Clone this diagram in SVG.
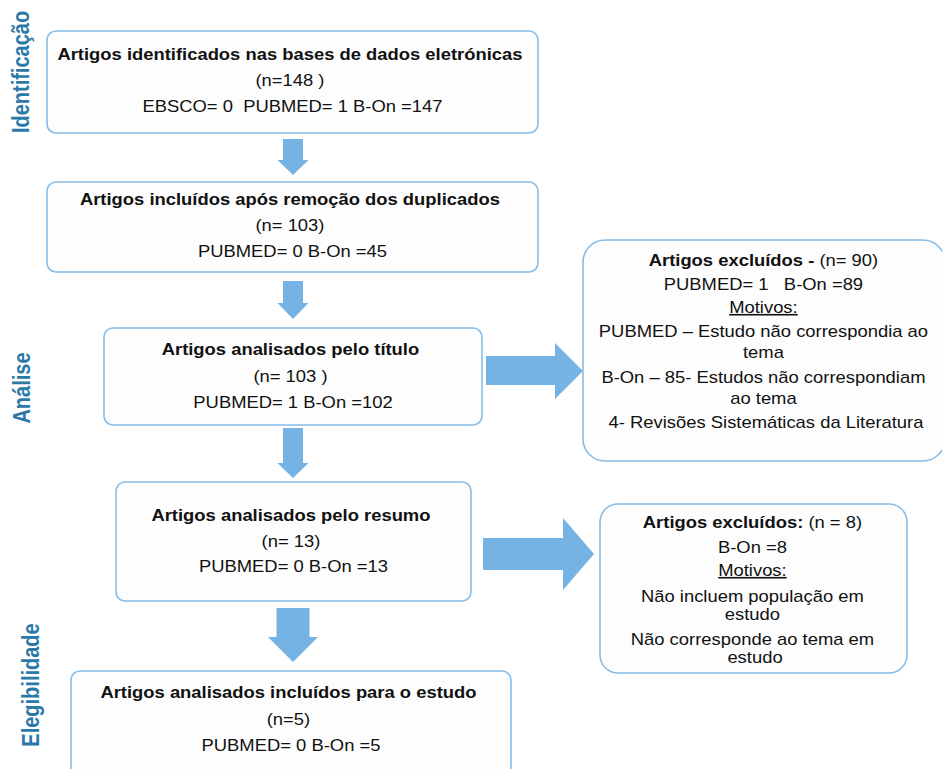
<svg xmlns="http://www.w3.org/2000/svg" width="942" height="769" viewBox="0 0 942 769">
<style>
  .box { fill: #fdfdfd; stroke: #86bde8; stroke-width: 1.6; }
  .arr { fill: #74b3e3; stroke: none; }
  text { font-family: "Liberation Sans", Arial, sans-serif; font-size: 16px; fill: #111; text-anchor: middle; }
  .b { font-weight: bold; }
  .u { text-decoration: underline; }
  .phase { font-size: 20px; font-weight: bold; fill: #2a79a8; }
</style>
<rect width="942" height="769" fill="#ffffff"/>

<g id="phase-labels">
  <text class="phase" transform="translate(28.5 72) scale(1.15 1) rotate(-90)">Identificação</text>
  <text class="phase" transform="translate(30 388) scale(1.15 1) rotate(-90)">Análise</text>
  <text class="phase" transform="translate(38.5 685) scale(1.15 1) rotate(-90)">Elegibilidade</text>
</g>

<g id="connectors">
  <polygon class="arr" points="283,139 303,139 303,160 308.5,160 293,175 277.5,160 283,160"/>
  <polygon class="arr" points="283,281 303,281 303,303 308.5,303 293,319 277.5,303 283,303"/>
  <polygon class="arr" points="283,428 303,428 303,463 308.5,463 293,478 277.5,463 283,463"/>
  <polygon class="arr" points="276.5,608 309.5,608 309.5,637 318,637 293,662 268,637 276.5,637"/>
  <polygon class="arr" points="486,356 555,356 555,343 583,371 555,399 555,385 486,385"/>
  <polygon class="arr" points="483,538 563,538 563,518 594,554 563,590 563,570 483,570"/>
</g>

<g id="node-identified">
  <rect class="box" x="47" y="31" width="491" height="102" rx="9"/>
  <text transform="translate(292.5 0) scale(1.15 1)">
    <tspan class="b" x="0" y="60">Artigos identificados nas bases de dados eletrónicas</tspan>
    <tspan x="0" y="86">(n=148 )</tspan>
    <tspan x="0" y="112">EBSCO= 0&#160; PUBMED= 1 B-On =147</tspan>
  </text>
</g>

<g id="node-dedup">
  <rect class="box" x="47" y="182" width="491" height="90" rx="9"/>
  <text transform="translate(292.5 0) scale(1.15 1)">
    <tspan class="b" x="0" y="205">Artigos incluídos após remoção dos duplicados</tspan>
    <tspan x="0" y="231">(n= 103)</tspan>
    <tspan x="0" y="257">PUBMED= 0 B-On =45</tspan>
  </text>
</g>

<g id="node-title">
  <rect class="box" x="104" y="328" width="378" height="97" rx="9"/>
  <text transform="translate(293 0) scale(1.15 1)">
    <tspan class="b" x="0" y="355">Artigos analisados pelo título</tspan>
    <tspan x="0" y="382">(n= 103 )</tspan>
    <tspan x="0" y="408">PUBMED= 1 B-On =102</tspan>
  </text>
</g>

<g id="node-excluded-1">
  <rect class="box" x="583" y="240" width="362" height="221" rx="22"/>
  <text transform="translate(766 0) scale(1.15 1)">
    <tspan x="0" y="266"><tspan class="b">Artigos excluídos -</tspan> (n= 90)</tspan>
    <tspan x="0" y="290">PUBMED= 1&#160;&#160; B-On =89</tspan>
    <tspan class="u" x="0" y="313">Motivos:</tspan>
    <tspan x="0" y="337">PUBMED – Estudo não correspondia ao</tspan>
    <tspan x="0" y="358">tema</tspan>
    <tspan x="0" y="383">B-On – 85- Estudos não correspondiam</tspan>
    <tspan x="0" y="404">ao tema</tspan>
    <tspan x="0" y="428">4- Revisões Sistemáticas da Literatura</tspan>
  </text>
</g>

<g id="node-abstract">
  <rect class="box" x="116" y="482" width="355" height="119" rx="9"/>
  <text transform="translate(293.5 0) scale(1.15 1)">
    <tspan class="b" x="0" y="521">Artigos analisados pelo resumo</tspan>
    <tspan x="0" y="547">(n= 13)</tspan>
    <tspan x="0" y="572">PUBMED= 0 B-On =13</tspan>
  </text>
</g>

<g id="node-excluded-2">
  <rect class="box" x="600" y="504" width="307" height="169" rx="18"/>
  <text transform="translate(755 0) scale(1.15 1)">
    <tspan x="0" y="528"><tspan class="b">Artigos excluídos:</tspan> (n = 8)</tspan>
    <tspan x="0" y="553">B-On =8</tspan>
    <tspan class="u" x="0" y="576">Motivos:</tspan>
    <tspan x="0" y="602">Não incluem população em</tspan>
    <tspan x="0" y="620">estudo</tspan>
    <tspan x="0" y="645">Não corresponde ao tema em</tspan>
    <tspan x="0" y="663">estudo</tspan>
  </text>
</g>

<g id="node-included">
  <rect class="box" x="71" y="671" width="440" height="110" rx="9"/>
  <text transform="translate(291 0) scale(1.15 1)">
    <tspan class="b" x="0" y="698">Artigos analisados incluídos para o estudo</tspan>
    <tspan x="0" y="725">(n=5)</tspan>
    <tspan x="0" y="751">PUBMED= 0 B-On =5</tspan>
  </text>
</g>
</svg>
